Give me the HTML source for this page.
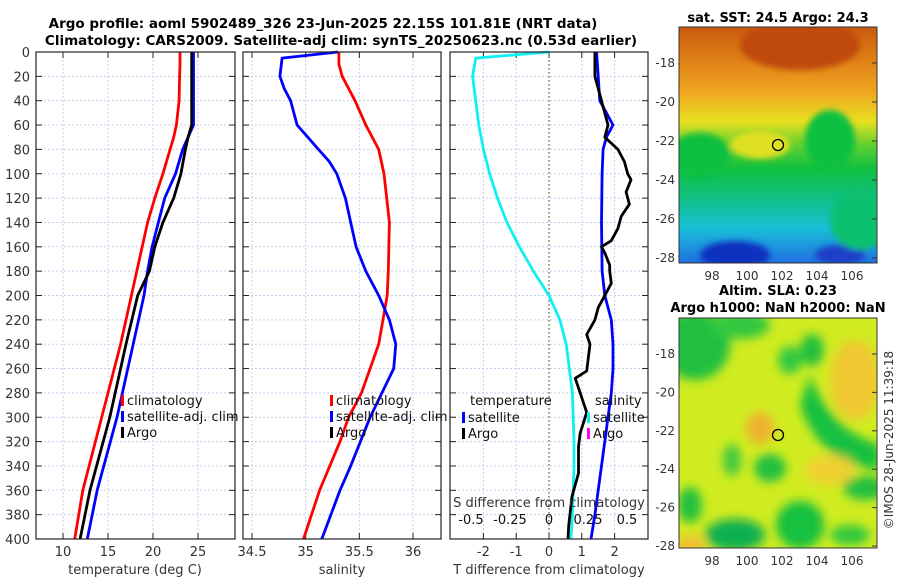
<!DOCTYPE html>
<html><head><meta charset="utf-8"><style>
html,body{margin:0;padding:0;background:#fff;}
svg{display:block;font-family:"DejaVu Sans","Liberation Sans",sans-serif;}
</style></head><body>
<svg id="c" width="900" height="580" viewBox="0 0 900 580" xmlns="http://www.w3.org/2000/svg">
<defs>
<filter id="bl" x="-20%" y="-20%" width="140%" height="140%"><feGaussianBlur stdDeviation="5"/></filter>
<filter id="bl2" x="-20%" y="-20%" width="140%" height="140%"><feGaussianBlur stdDeviation="3"/></filter>
<clipPath id="cm1"><rect x="679" y="27" width="198" height="236"/></clipPath>
<clipPath id="cm2"><rect x="679" y="318" width="198" height="230"/></clipPath>
<linearGradient id="sstg" x1="0" y1="0" x2="0" y2="1">
<stop offset="0" stop-color="#c85a10"/><stop offset="0.12" stop-color="#dc7a14"/><stop offset="0.28" stop-color="#f0a820"/>
<stop offset="0.4" stop-color="#e8e020"/><stop offset="0.5" stop-color="#60d030"/><stop offset="0.6" stop-color="#10c040"/>
<stop offset="0.72" stop-color="#10c080"/><stop offset="0.85" stop-color="#18c0d8"/><stop offset="1" stop-color="#2070e0"/>
</linearGradient>
</defs>
<g font-weight="bold" font-size="13.5" text-anchor="middle" fill="#000">
<text x="323" y="28">Argo profile: aoml 5902489_326 23-Jun-2025 22.15S 101.81E (NRT data)</text>
<text x="341" y="45">Climatology: CARS2009. Satellite-adj clim: synTS_20250623.nc (0.53d earlier)</text>
</g>
<g id="charts"></g>

<g>
<text x="778" y="22" font-size="13" font-weight="bold" text-anchor="middle">sat. SST: 24.5 Argo: 24.3</text>
<g clip-path="url(#cm1)">
<rect x="679" y="27" width="198" height="236" fill="url(#sstg)"/>
<g filter="url(#bl2)">
<ellipse cx="800" cy="45" rx="60" ry="25" fill="#c04a0c"/>
<ellipse cx="700" cy="155" rx="30" ry="22" fill="#10c040"/>
<ellipse cx="830" cy="140" rx="25" ry="30" fill="#10c040"/>
<ellipse cx="760" cy="145" rx="30" ry="14" fill="#e0e020"/>
<ellipse cx="735" cy="255" rx="35" ry="14" fill="#1030c0"/>
<ellipse cx="840" cy="255" rx="25" ry="10" fill="#1a40c8"/>
<ellipse cx="860" cy="220" rx="30" ry="30" fill="#10c070"/>
</g>
</g>
<rect x="679" y="27" width="198" height="236" fill="none" stroke="#333" stroke-width="1"/>
<circle cx="778" cy="145" r="5.5" fill="none" stroke="#000" stroke-width="1.3"/>
<g font-size="12" fill="#333" text-anchor="end" id="sstY"></g>
<g font-size="12" fill="#333" text-anchor="middle" id="sstX"></g>
</g>

<g>
<text x="778" y="295" font-size="13" font-weight="bold" text-anchor="middle">Altim. SLA: 0.23</text>
<text x="778" y="312" font-size="13" font-weight="bold" text-anchor="middle">Argo h1000: NaN h2000: NaN</text>
<g clip-path="url(#cm2)">
<rect x="679" y="318" width="198" height="230" fill="#d0ec20"/>
<g filter="url(#bl)">
<ellipse cx="695" cy="345" rx="35" ry="35" fill="#20c040"/>
<ellipse cx="740" cy="325" rx="30" ry="14" fill="#30c840"/>
<ellipse cx="760" cy="428" rx="14" ry="16" fill="#f0b030"/>
<ellipse cx="855" cy="380" rx="25" ry="40" fill="#f0c830"/>
<ellipse cx="812" cy="350" rx="12" ry="16" fill="#20c040"/>
<ellipse cx="790" cy="360" rx="12" ry="14" fill="#30c840"/>
<path d="M810 375 Q830 430 880 445 L880 470 Q820 465 800 405 Z" fill="#18c040"/>
<ellipse cx="770" cy="468" rx="16" ry="14" fill="#20c040"/>
<ellipse cx="732" cy="460" rx="9" ry="16" fill="#40c840"/>
<ellipse cx="690" cy="505" rx="12" ry="18" fill="#20c040"/>
<ellipse cx="735" cy="535" rx="30" ry="16" fill="#10b050"/>
<ellipse cx="800" cy="525" rx="24" ry="24" fill="#18c040"/>
<ellipse cx="865" cy="488" rx="22" ry="12" fill="#20c040"/>
<ellipse cx="830" cy="470" rx="25" ry="15" fill="#f0d030"/>
<ellipse cx="690" cy="545" rx="15" ry="10" fill="#f0c030"/>
<ellipse cx="850" cy="535" rx="20" ry="10" fill="#30c840"/>
</g>
</g>
<rect x="679" y="318" width="198" height="230" fill="none" stroke="#333" stroke-width="1"/>
<circle cx="778" cy="435" r="5.5" fill="none" stroke="#000" stroke-width="1.3"/>
<g font-size="12" fill="#333" text-anchor="end" id="slaY"></g>
<g font-size="12" fill="#333" text-anchor="middle" id="slaX"></g>
</g>
<text transform="translate(893,440) rotate(-90)" font-size="12" fill="#333" text-anchor="middle">©IMOS 28-Jun-2025 11:39:18</text>
</svg>
<script>
const depthTicks=[0,20,40,60,80,100,120,140,160,180,200,220,240,260,280,300,320,340,360,380,400];
const tDepth=[0,10,20,40,60,70,80,100,120,140,160,180,200,240,300,360,400];
const tClim=[23.0,23.0,22.95,22.9,22.6,22.3,21.9,21.1,20.2,19.4,18.8,18.2,17.6,16.4,14.3,12.2,11.3];
const tSat=[24.5,24.5,24.5,24.5,24.5,23.9,23.3,22.5,21.3,20.6,19.9,19.4,19.0,17.8,16.0,13.8,12.7];
const tArgo=[24.3,24.3,24.3,24.3,24.3,23.9,23.6,23.1,22.3,21.1,20.2,19.6,18.3,17.0,15.2,13.0,11.9];
const sDepth=[0,10,20,40,60,80,100,140,180,200,240,280,300,320,360,400];
const sClim=[35.31,35.31,35.34,35.46,35.56,35.68,35.73,35.78,35.77,35.76,35.68,35.52,35.40,35.32,35.13,34.98];
const sDepthSat=[0,5,20,30,40,60,70,80,90,100,120,140,160,180,200,220,240,260,300,340,360,400];
const sSat=[35.30,34.78,34.76,34.80,34.86,34.92,35.02,35.12,35.22,35.29,35.37,35.42,35.47,35.56,35.68,35.78,35.84,35.82,35.60,35.42,35.32,35.15];
const dDepth=[0,5,20,40,60,80,100,120,140,160,180,200,220,240,260,280,300,320,340,360,380,400];
const sDiffSat=[0,-0.47,-0.49,-0.47,-0.45,-0.42,-0.38,-0.33,-0.27,-0.19,-0.1,0.0,0.07,0.11,0.13,0.15,0.155,0.16,0.16,0.155,0.15,0.14];
const tdDepth=[0,20,40,60,70,80,100,140,180,200,220,240,260,280,300,320,340,360,380,400];
const tDiffSat=[1.45,1.5,1.55,1.95,1.75,1.65,1.62,1.6,1.62,1.7,1.9,1.95,1.95,1.9,1.8,1.7,1.6,1.5,1.4,1.28];
const taDepth=[0,20,40,60,70,80,90,100,105,115,125,135,145,155,160,165,175,180,190,200,210,220,232,240,262,268,280,296,313,324,346,365,389,400];
const tDiffArgo=[1.4,1.4,1.6,1.8,1.7,2.1,2.3,2.4,2.5,2.35,2.45,2.2,2.1,1.9,1.6,1.7,1.85,1.85,1.9,1.7,1.5,1.4,1.15,1.25,1.15,0.8,0.95,1.15,0.95,0.9,0.9,0.7,0.6,0.58];
const tTicks=[10,15,20,25];
const sTicks=[34.5,35,35.5,36];
const dTicks=[-2,-1,0,1,2];
const sdTicks=[-0.5,-0.25,0,0.25,0.5];
const latTicks=[-18,-20,-22,-24,-26,-28];
const lonTicks=[98,100,102,104,106];

const NS='http://www.w3.org/2000/svg';
const root=document.getElementById('charts');
function mk(tag,attrs,parent){const e=document.createElementNS(NS,tag);for(const k in attrs)e.setAttribute(k,attrs[k]);(parent||root).appendChild(e);return e;}
const Y0=52,Y1=539;
const yD=d=>Y0+(d/400)*(Y1-Y0);
function lin(d0,d1,r0,r1){return v=>r0+(v-d0)/(d1-d0)*(r1-r0);}

function panel(name,x0,x1,xf,ticks,lbl,showY){
  const g=mk('g',{});
  
  
  depthTicks.forEach(d=>{const l=mk('line',{x1:x0,x2:x1,y1:yD(d),y2:yD(d),stroke:'#c8d0f0','stroke-width':1,'stroke-dasharray':'2,2'},g);
    mk('line',{x1:x0,x2:x0+6,y1:yD(d),y2:yD(d),stroke:'#222'},g);mk('line',{x1:x1-6,x2:x1,y1:yD(d),y2:yD(d),stroke:'#222'},g);
    if(showY){const t=mk('text',{x:x0-6,y:yD(d)+5,'font-size':13,'text-anchor':'end',fill:'#333'},g);t.textContent=d;}
  });
  ticks.forEach(v=>{const x=xf(v);const l=mk('line',{x1:x,x2:x,y1:Y0,y2:Y1,stroke:'#c8d0f0','stroke-dasharray':'2,2'},g);
    mk('line',{x1:x,x2:x,y1:Y1-6,y2:Y1,stroke:'#222'},g);mk('line',{x1:x,x2:x,y1:Y0,y2:Y0+6,stroke:'#222'},g);
    const t=mk('text',{x:x,y:Y1+17,'font-size':13,'text-anchor':'middle',fill:'#333'},g);t.textContent=lbl(v);});
  return g;
}
function line(g,xs,ds,xf,color,name,w){
  const p=mk('polyline',{points:xs.map((v,i)=>xf(v).toFixed(1)+','+yD(ds[i]).toFixed(1)).join(' '),fill:'none',stroke:color,'stroke-width':w||2.8,'stroke-linejoin':'round'},g);
  
}
function frame(g,x0,x1){mk('rect',{x:x0,y:Y0,width:x1-x0,height:Y1-Y0,fill:'none',stroke:'#222','stroke-width':1.2},g);}
function legend(g,x,y,items){
  items.forEach((it,i)=>{const yy=y+i*16;mk('rect',{x:x,y:yy-10,width:3,height:11,fill:it[1]},g);
    const t=mk('text',{x:x+6,y:yy,'font-size':13,fill:'#111'},g);t.textContent=it[0];});
}
function xlabel(g,x,txt,y){const t=mk('text',{x:x,y:y||Y1+35,'font-size':13,'text-anchor':'middle',fill:'#333'},g);t.textContent=txt;}

const xT=lin(10,25,63,198);
const g1=panel('temperature-panel',36,235,xT,tTicks,v=>v,true);
line(g1,tClim,tDepth,xT,'#f00','temp-climatology-line');
line(g1,tSat,tDepth,xT,'#00f','temp-satellite-line');
line(g1,tArgo,tDepth,xT,'#000','temp-argo-line');
frame(g1,36,235);
legend(g1,121,405,[['climatology','#f00'],['satellite-adj. clim','#00f'],['Argo','#000']]);
xlabel(g1,135,'temperature (deg C)');

const xS=lin(34.5,36,252,413);
const g2=panel('salinity-panel',243,441,xS,sTicks,v=>v,false);
line(g2,sClim,sDepth,xS,'#f00','sal-climatology-line');
line(g2,sSat,sDepthSat,xS,'#00f','sal-satellite-line');
frame(g2,243,441);
legend(g2,330,405,[['climatology','#f00'],['satellite-adj. clim','#00f'],['Argo','#000']]);
xlabel(g2,342,'salinity');

const xDt=lin(0,1,549,581.8);
const xDs=lin(0,1,549,705);
const g3=panel('difference-panel',450,648,xDt,dTicks,v=>v,false);
mk('line',{x1:549,x2:549,y1:Y0,y2:Y1,stroke:'#506030','stroke-dasharray':'1.5,2.5','stroke-width':1.2},g3);
line(g3,sDiffSat,dDepth,xDs,'#10f0f0','sal-diff-satellite-line');
line(g3,tDiffSat,tdDepth,xDt,'#00f','temp-diff-satellite-line');
line(g3,tDiffArgo,taDepth,xDt,'#000','temp-diff-argo-line');
frame(g3,450,648);
{const t=mk('text',{x:470,y:405,'font-size':13,fill:'#111'},g3);t.textContent='temperature';
 const t2=mk('text',{x:595,y:405,'font-size':13,fill:'#111'},g3);t2.textContent='salinity';}
legend(g3,462,422,[['satellite','#00f'],['Argo','#000']]);
legend(g3,587,422,[['satellite','#10f0f0'],['Argo','#f0f']]);
xlabel(g3,549,'S difference from climatology',Y1-32);
sdTicks.forEach(v=>{const t=mk('text',{x:xDs(v),y:Y1-15,'font-size':13,'text-anchor':'middle',fill:'#111'},g3);t.textContent=v;});
xlabel(g3,549,'T difference from climatology');

function mapTicks(yId,xId,top,bot,latY0,latY1){
  const gy=document.getElementById(yId),gx=document.getElementById(xId);
  const yl=lin(-18,-28,latY0,latY1),xl=lin(98,106,712,852);
  latTicks.forEach(v=>{const t=mk('text',{x:675,y:yl(v)+4},gy);t.textContent=v;
    mk('line',{x1:877,x2:872,y1:yl(v),y2:yl(v),stroke:'#333'},gy);});
  lonTicks.forEach(v=>{const t=mk('text',{x:xl(v),y:bot+17},gx);t.textContent=v;});
}
mapTicks('sstY','sstX',27,263,63,258);
mapTicks('slaY','slaX',318,548,354,546);
</script>
</body></html>
